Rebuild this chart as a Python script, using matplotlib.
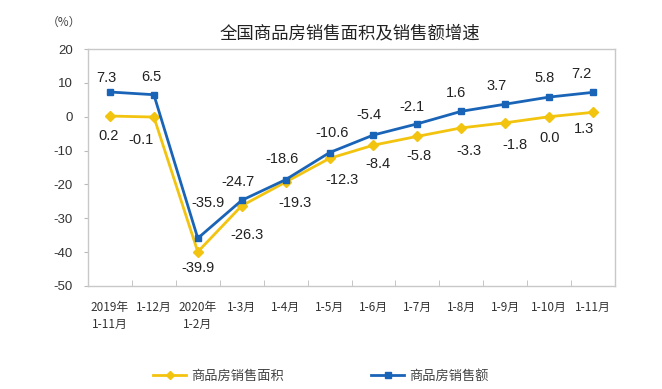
import matplotlib
matplotlib.use("Agg")
import matplotlib.pyplot as plt
from matplotlib.ticker import FixedLocator

plt.rcParams['font.family'] = ['Noto Sans CJK SC', 'DejaVu Sans']

categories = ["2019年\n1-11月", "1-12月", "2020年\n1-2月", "1-3月", "1-4月", "1-5月",
              "1-6月", "1-7月", "1-8月", "1-9月", "1-10月", "1-11月"]
area = [0.2, -0.1, -39.9, -26.3, -19.3, -12.3, -8.4, -5.8, -3.3, -1.8, 0.0, 1.3]
amount = [7.3, 6.5, -35.9, -24.7, -18.6, -10.6, -5.4, -2.1, 1.6, 3.7, 5.8, 7.2]
area_labels = ["0.2", "-0.1", "-39.9", "-26.3", "-19.3", "-12.3", "-8.4", "-5.8", "-3.3", "-1.8", "0.0", "1.3"]
amount_labels = ["7.3", "6.5", "-35.9", "-24.7", "-18.6", "-10.6", "-5.4", "-2.1", "1.6", "3.7", "5.8", "7.2"]
yticks = [20, 10, 0, -10, -20, -30, -40, -50]

# label offsets in pixels (layout only)
area_off = [(-1, -20), (-13, -23), (0, -16), (5, -29), (9, -21), (12, -22),
            (4, -19), (2, -20), (8, -23), (10, -22), (0, -21), (-9, -17)]
amount_off = [(-4, 14), (-2, 18), (10, 35), (-4, 18), (-4, 21), (3, 20),
              (-5, 20), (-5, 17), (-5, 18), (-9, 18), (-5, 19), (-12, 18)]

yellow = "#F2C40F"
blue = "#1A64B8"

fig = plt.figure(figsize=(6.62, 3.89), dpi=100)
ax = fig.add_axes([88/662, 1-286/389, (615-88)/662, (286-49)/389])

x = list(range(len(categories)))
ax.plot(x, area, color=yellow, lw=2, marker="D", ms=5, zorder=3, label="商品房销售面积")
ax.plot(x, amount, color=blue, lw=2, marker="s", ms=5, zorder=3, label="商品房销售额")

for i in x:
    ax.annotate(area_labels[i], (x[i], area[i]), xytext=area_off[i], textcoords="offset pixels",
                ha="center", va="center", fontsize=10.5, family=["Liberation Sans", "DejaVu Sans"],
                color="#222222")
    ax.annotate(amount_labels[i], (x[i], amount[i]), xytext=amount_off[i], textcoords="offset pixels",
                ha="center", va="center", fontsize=10.5, family=["Liberation Sans", "DejaVu Sans"],
                color="#222222")

ax.set_xlim(-0.5, len(categories) - 0.5)
ax.set_ylim(-50, 20)
ax.set_yticks(yticks)
ax.set_yticklabels([str(v) for v in yticks], family=["Liberation Sans", "DejaVu Sans"], fontsize=9.5,
                   color="#333333")
ax.tick_params(axis="y", length=3, color="#bbbbbb", pad=8)

ax.set_xticks(x)
ax.set_xticklabels(categories, fontsize=8.5, color="#333333", linespacing=1.4)
ax.xaxis.set_minor_locator(FixedLocator([i + 0.5 for i in x[:-1]]))
ax.tick_params(axis="x", which="major", length=0, pad=11)
ax.tick_params(axis="x", which="minor", length=4, direction="in", color="#bbbbbb")
for lbl in ax.get_xticklabels():
    lbl.set_verticalalignment("top")

for s in ax.spines.values():
    s.set_color("#c8c8c8")
    s.set_linewidth(1)

fig.text(350/662, 1-33/389, "全国商品房销售面积及销售额增速", ha="center", va="center", fontsize=12.5,
         color="#222222")
fig.text(64/662, 1-22/389, "（%）", ha="center", va="center", fontsize=8.5, color="#444444")

leg = fig.legend(loc="center", bbox_to_anchor=(321/662, 1-376/389), ncol=2, frameon=False,
                 handlelength=2.5, handletextpad=0.4, columnspacing=6.6, fontsize=9.5, markerscale=0.8)
for t in leg.get_texts():
    t.set_color("#444444")

fig.savefig("out.png", dpi=100)
